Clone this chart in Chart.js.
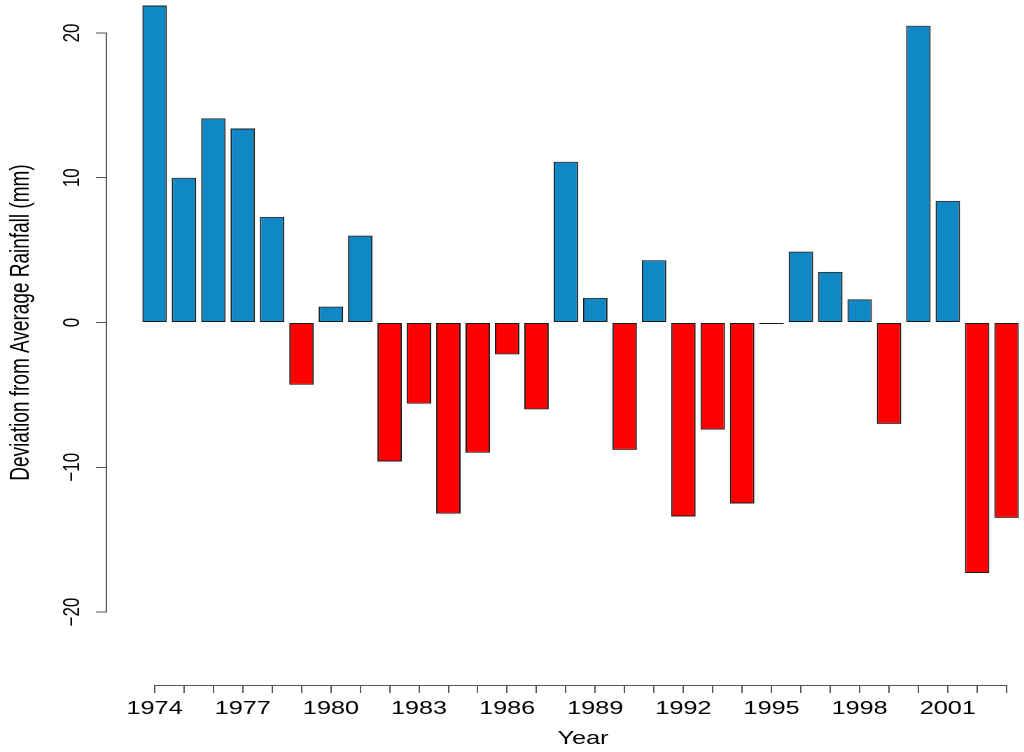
<!DOCTYPE html>
<html>
<head>
<meta charset="utf-8">
<script src="https://cdn.jsdelivr.net/npm/chart.js@4"></script>
<style>
  html, body { margin: 0; padding: 0; overflow: hidden; background: #fff; }
  /* the reference is a horizontally stretched R barplot */
  #wrap { position: absolute; left: 0; top: -40px; width: 770px; height: 792px;
          transform: scaleX(1.4); transform-origin: 0 0; }
</style>
</head>
<body>
<div id="wrap"><canvas id="chart"></canvas></div>
<script>
// Years and deviation from average rainfall (mm)
const years = [1974, 1975, 1976, 1977, 1978, 1979, 1980, 1981, 1982, 1983,
               1984, 1985, 1986, 1987, 1988, 1989, 1990, 1991, 1992, 1993,
               1994, 1995, 1996, 1997, 1998, 1999, 2000, 2001, 2002, 2003];
const deviation = [21.9, 10.0, 14.1, 13.4, 7.3, -4.3, 1.1, 6.0, -9.6, -5.6,
                   -13.2, -9.0, -2.2, -6.0, 11.1, 1.7, -8.8, 4.3, -13.4, -7.4,
                   -12.5, -0.1, 4.9, 3.5, 1.6, -7.0, 20.5, 8.4, -17.3, -13.5];
const yTicks = [-20, -10, 0, 10, 20];
const labelEvery = 3;

const BLUE = '#1188c6';
const RED = '#ff0000';
const FONT = "'Liberation Sans', Arial, Helvetica, sans-serif";

// R style axes: line only from first to last tick, rotated y labels
const rAxes = {
    id: 'rAxes',
    afterDraw(chart) {
        const ctx = chart.ctx;
        const x = chart.scales.x;
        const y = chart.scales.y;
        ctx.save();
        ctx.strokeStyle = '#555';
        ctx.lineWidth = 1;
        ctx.beginPath();
        ctx.moveTo(x.getPixelForValue(years[0]), x.top + 0.5);
        ctx.lineTo(x.getPixelForValue(years[years.length - 1]), x.top + 0.5);
        ctx.moveTo(y.right - 0.5, y.getPixelForValue(yTicks[0]));
        ctx.lineTo(y.right - 0.5, y.getPixelForValue(yTicks[yTicks.length - 1]));
        ctx.stroke();

        ctx.fillStyle = '#000';
        ctx.font = '17px ' + FONT;
        ctx.textAlign = 'center';
        ctx.textBaseline = 'alphabetic';
        yTicks.forEach(v => {
            ctx.save();
            ctx.translate(y.right - 20, y.getPixelForValue(v));
            ctx.rotate(-Math.PI / 2);
            ctx.fillText(v < 0 ? '\u2212' + Math.abs(v) : String(v), 0, 0);
            ctx.restore();
        });
        ctx.restore();
    }
};

new Chart(document.getElementById('chart'), {
    type: 'bar',
    data: {
        datasets: [{
            data: years.map((yr, i) => ({ x: yr, y: deviation[i] })),
            backgroundColor: deviation.map(v => v >= 0 ? BLUE : RED),
            borderColor: '#1a1a1a',
            borderWidth: 1,
            borderSkipped: false,
            barPercentage: 0.833,
            categoryPercentage: 1
        }]
    },
    options: {
        responsive: true,
        maintainAspectRatio: false,
        devicePixelRatio: 2,
        animation: false,
        layout: { padding: { left: 0, right: 13.7, top: 0, bottom: 0 } },
        plugins: {
            legend: { display: false },
            tooltip: { enabled: false }
        },
        scales: {
            x: {
                type: 'linear',
                min: 1972.383,
                max: 2004.78,
                offset: false,
                border: { display: false },
                grid: { offset: false, drawOnChartArea: false, drawTicks: true, tickLength: 8, tickColor: '#555', lineWidth: 1 },
                afterBuildTicks: s => {
                    s.ticks = years.map(v => ({ value: v }));
                },
                afterFit: s => { s.height = 67; },
                ticks: {
                    stepSize: 1,
                    includeBounds: false,
                    autoSkip: false,
                    maxRotation: 0,
                    maxTicksLimit: 100,
                    padding: 5,
                    color: '#000',
                    font: { family: FONT, size: 18 },
                    callback: v => (v - years[0]) % labelEvery === 0 ? String(v) : ''
                },
                title: {
                    display: true,
                    text: 'Year',
                    color: '#000',
                    font: { family: FONT, size: 18 },
                    padding: { top: 0, bottom: 2 }
                }
            },
            y: {
                min: -25.04,
                max: 25.04,
                border: { display: false },
                grid: { drawOnChartArea: false, drawTicks: true, tickLength: 8, tickColor: '#555', lineWidth: 1 },
                afterBuildTicks: s => {
                    s.ticks = yTicks.map(v => ({ value: v }));
                },
                afterFit: s => { s.width = 76.5; },
                ticks: {
                    includeBounds: false,
                    display: false
                },
                title: {
                    display: true,
                    text: 'Deviation from Average Rainfall (mm)',
                    color: '#000',
                    font: { family: FONT, size: 19 },
                    padding: { top: 4, bottom: 0 }
                }
            }
        }
    },
    plugins: [rAxes]
});
</script>
</body>
</html>
